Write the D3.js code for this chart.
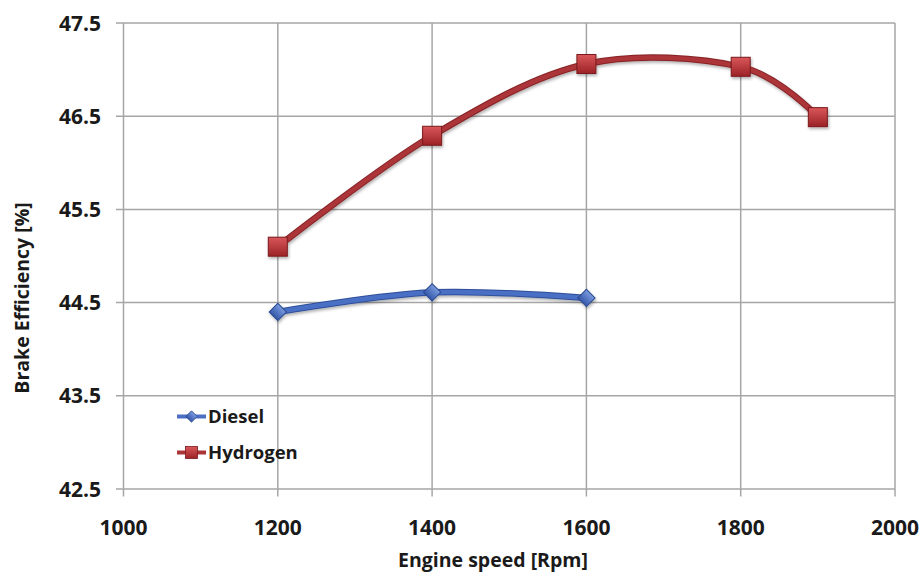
<!DOCTYPE html>
<html>
<head>
<meta charset="utf-8">
<script src="https://cdn.jsdelivr.net/npm/d3@7"></script>
<style>
  html, body { margin: 0; padding: 0; background: #fff; }
  svg { display: block; font-family: "Open Sans", sans-serif; }
</style>
</head>
<body>
<svg id="chart" width="922" height="572"></svg>
<script>
const speeds = [1200, 1400, 1600, 1800, 1900];
const dieselSpeeds = [1200, 1400, 1600];
const dieselValues = [44.40, 44.61, 44.55];
const hydrogenSpeeds = [1200, 1400, 1600, 1800, 1900];
const hydrogenValues = [45.10, 46.29, 47.06, 47.03, 46.49];
const xTicks = [1000, 1200, 1400, 1600, 1800, 2000];
const yTicks = [42.5, 43.5, 44.5, 45.5, 46.5, 47.5];
const seriesNames = ["Diesel", "Hydrogen"];

const svg = d3.select("#chart");
const x = d3.scaleLinear().domain([1000, 2000]).range([123.5, 895]);
const y = d3.scaleLinear().domain([42.5, 47.5]).range([489, 23]);

const defs = svg.append("defs");
const gRed = defs.append("linearGradient").attr("id", "gRed").attr("x1", 0).attr("y1", 0).attr("x2", 0).attr("y2", 1);
gRed.append("stop").attr("offset", "0%").attr("stop-color", "#d9575a");
gRed.append("stop").attr("offset", "100%").attr("stop-color", "#9b2226");
const gBlue = defs.append("linearGradient").attr("id", "gBlue").attr("x1", 0).attr("y1", 0).attr("x2", 0).attr("y2", 1);
gBlue.append("stop").attr("offset", "0%").attr("stop-color", "#7a9be0");
gBlue.append("stop").attr("offset", "100%").attr("stop-color", "#3557a8");
const shadow = defs.append("filter").attr("id", "shadow").attr("x", "-20%").attr("y", "-20%").attr("width", "140%").attr("height", "140%");
shadow.append("feDropShadow").attr("dx", 1).attr("dy", 2).attr("stdDeviation", 1.5).attr("flood-color", "#000").attr("flood-opacity", 0.3);

const gridColor = "#a6a6a6";

svg.append("g").selectAll("line").data(yTicks).join("line")
  .attr("x1", 116).attr("x2", 895)
  .attr("y1", d => y(d)).attr("y2", d => y(d))
  .attr("stroke", gridColor).attr("stroke-width", 1.5);
svg.append("g").selectAll("line").data(xTicks).join("line")
  .attr("x1", d => x(d)).attr("x2", d => x(d))
  .attr("y1", 23).attr("y2", 496.5)
  .attr("stroke", gridColor).attr("stroke-width", 1.5);

svg.append("g").selectAll("text").data(yTicks).join("text")
  .attr("x", 101).attr("y", d => y(d))
  .attr("dy", "0.36em").attr("text-anchor", "end")
  .attr("font-size", 21).attr("font-weight", 700).attr("fill", "#1a1a1a")
  .text(d => d.toFixed(1));
svg.append("g").selectAll("text").data(xTicks).join("text")
  .attr("x", d => x(d)).attr("y", 535)
  .attr("text-anchor", "middle")
  .attr("font-size", 21).attr("font-weight", 700).attr("fill", "#1a1a1a")
  .text(d => d);

svg.append("text").attr("x", 493).attr("y", 567).attr("text-anchor", "middle")
  .attr("font-size", 19.5).attr("font-weight", 700).attr("fill", "#1a1a1a")
  .text("Engine speed [Rpm]");
svg.append("text").attr("transform", "translate(29,298) rotate(-90)").attr("text-anchor", "middle")
  .attr("font-size", 19.5).attr("font-weight", 700).attr("fill", "#1a1a1a")
  .text("Brake Efficiency [%]");

const line = d3.line().x(d => x(d[0])).y(d => y(d[1])).curve(d3.curveCardinal.tension(0));

const diesel = dieselSpeeds.map((s, i) => [s, dieselValues[i]]);
const hydrogen = hydrogenSpeeds.map((s, i) => [s, hydrogenValues[i]]);

function drawSeries(data, color, dark, markerType) {
  const g = svg.append("g").attr("filter", "url(#shadow)");
  g.append("path").datum(data).attr("d", line)
    .attr("fill", "none").attr("stroke", dark).attr("stroke-width", 6.5).attr("stroke-linecap", "round");
  g.append("path").datum(data).attr("d", line)
    .attr("fill", "none").attr("stroke", color).attr("stroke-width", 4.5).attr("stroke-linecap", "round");
  if (markerType === "diamond") {
    g.selectAll("path.m").data(data).join("path").attr("class", "m")
      .attr("d", d3.symbol().type(d3.symbolSquare).size(150))
      .attr("transform", d => `translate(${x(d[0])},${y(d[1])}) rotate(45)`)
      .attr("fill", "url(#gBlue)").attr("stroke", "#2a4a90").attr("stroke-width", 1);
  } else {
    g.selectAll("rect.m").data(data).join("rect").attr("class", "m")
      .attr("x", d => x(d[0]) - 9.5).attr("y", d => y(d[1]) - 9.5)
      .attr("width", 19).attr("height", 19)
      .attr("fill", "url(#gRed)").attr("stroke", "#7a1a1d").attr("stroke-width", 1);
  }
}
drawSeries(diesel, "#4a6fc4", "#2f4f9a", "diamond");
drawSeries(hydrogen, "#ab3437", "#862326", "square");

const legend = svg.append("g");
const legendItems = [
  { name: seriesNames[0], color: "#4a6fc4", type: "diamond", y: 416.5 },
  { name: seriesNames[1], color: "#ab3437", type: "square", y: 452.5 }
];
legendItems.forEach(it => {
  const g = legend.append("g");
  g.append("line").attr("x1", 177).attr("x2", 206).attr("y1", it.y).attr("y2", it.y)
    .attr("stroke", it.color).attr("stroke-width", 4);
  if (it.type === "diamond") {
    g.append("path").attr("d", d3.symbol().type(d3.symbolSquare).size(64))
      .attr("transform", `translate(191.5,${it.y}) rotate(45)`)
      .attr("fill", "url(#gBlue)").attr("stroke", "#2a4a90").attr("stroke-width", 0.8);
  } else {
    g.append("rect").attr("x", 185.5).attr("y", it.y - 6).attr("width", 12).attr("height", 12)
      .attr("fill", "url(#gRed)").attr("stroke", "#7a1a1d").attr("stroke-width", 0.8);
  }
  g.append("text").attr("x", 208).attr("y", it.y).attr("dy", "0.36em")
    .attr("font-size", 18.5).attr("font-weight", 700).attr("fill", "#1a1a1a")
    .text(it.name);
});
</script>
</body>
</html>
